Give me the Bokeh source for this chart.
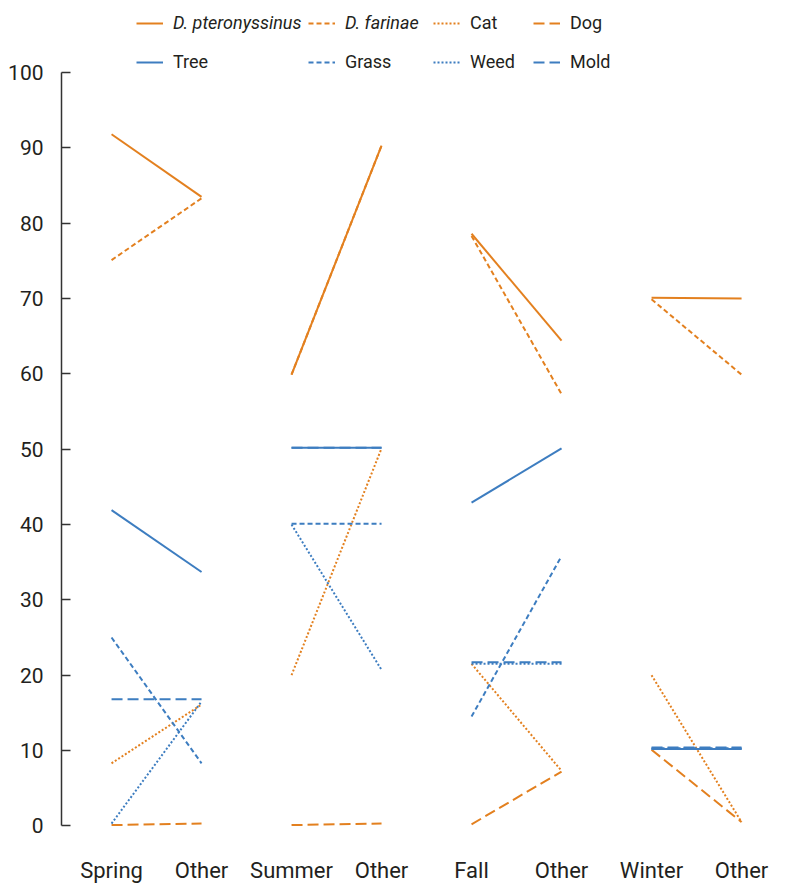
from bokeh.plotting import figure
from bokeh.models import Range1d, FixedTicker, Legend, LegendItem
from bokeh.embed import file_html
from bokeh.resources import INLINE

# ---- data ----
tick_labels = ["Spring", "Other", "Summer", "Other", "Fall", "Other", "Winter", "Other"]

d_pteronyssinus = [91.8, 83.5, 59.9, 90.3, 78.6, 64.4, 70.1, 70.0]
d_farinae       = [75.1, 83.3, 59.9, 90.3, 78.3, 57.3, 69.9, 59.9]
cat             = [8.3, 16.1, 20.0, 50.1, 21.5, 7.3, 20.0, 0.5]
dog             = [0.1, 0.3, 0.1, 0.3, 0.2, 7.2, 10.1, 0.5]
tree            = [41.9, 33.7, 50.2, 50.2, 42.9, 50.1, 10.2, 10.2]
grass           = [25.0, 8.3, 40.1, 40.1, 14.5, 35.8, 10.3, 10.3]
weed            = [0.3, 16.5, 40.0, 20.7, 21.5, 21.5, 10.2, 10.2]
mold            = [16.8, 16.8, 50.2, 50.2, 21.7, 21.7, 10.4, 10.4]

ORANGE = "#E3801F"
BLUE = "#3D7DC0"
TEXT = "#231F20"
FONT = "Roboto"

series = [
    ("D. pteronyssinus", d_pteronyssinus, ORANGE, "solid", True),
    ("D. farinae", d_farinae, ORANGE, "5 3", True),
    ("Cat", cat, ORANGE, "2 2", False),
    ("Dog", dog, ORANGE, "11 5", False),
    ("Tree", tree, BLUE, "solid", False),
    ("Grass", grass, BLUE, "5 3", False),
    ("Weed", weed, BLUE, "2 2", False),
    ("Mold", mold, BLUE, "11 5", False),
]

p = figure(frame_width=720, frame_height=825, output_backend="svg", toolbar_location=None,
           x_range=Range1d(-0.556, 7.444), y_range=Range1d(-1.02, 108.5),
           min_border_left=61, min_border_right=0, min_border_top=8, min_border_bottom=0)
p.outline_line_color = None
p.xgrid.visible = False
p.ygrid.visible = False
p.background_fill_color = "white"
p.border_fill_color = "white"

renderers = []
idx = list(range(len(tick_labels)))
for name, vals, color, dash, italic in series:
    xs = [[idx[i], idx[i + 1]] for i in range(0, len(idx), 2)]
    ys = [[vals[i], vals[i + 1]] for i in range(0, len(vals), 2)]
    r = p.multi_line(xs=xs, ys=ys, line_color=color, line_width=2, line_dash=dash)
    renderers.append((name, r, italic))

# y axis
ya = p.yaxis[0]
ya.ticker = FixedTicker(ticks=list(range(0, 101, 10)))
ya.bounds = (0, 100)
ya.axis_line_color = "#333333"
ya.axis_line_width = 1.5
ya.major_tick_line_color = "#333333"
ya.major_tick_line_width = 1.5
ya.major_tick_in = 9
ya.major_tick_out = 0
ya.minor_tick_line_color = None
ya.major_label_standoff = 18
ya.major_label_text_font = FONT
ya.major_label_text_font_size = "21px"
ya.major_label_text_color = TEXT

# x axis
xa = p.xaxis[0]
xa.ticker = FixedTicker(ticks=idx)
xa.major_label_overrides = {i: lab for i, lab in zip(idx, tick_labels)}
xa.axis_line_color = None
xa.major_tick_line_color = None
xa.minor_tick_line_color = None
xa.major_label_standoff = 18
xa.major_label_text_font = FONT
xa.major_label_text_font_size = "22px"
xa.major_label_text_color = TEXT

# legends: 2 rows x 4 columns
col_x = [75, 247, 372, 472]
row_y = [800, 761]
for k, (name, r, italic) in enumerate(renderers):
    row, col = divmod(k, 4)
    lg = Legend(items=[LegendItem(label=name, renderers=[r])],
                location=(col_x[col], row_y[row]),
                orientation="horizontal",
                glyph_width=27, glyph_height=20, label_height=20,
                label_standoff=10, padding=0, margin=0, spacing=0,
                label_text_font=FONT, label_text_font_size="18px",
                label_text_color=TEXT,
                label_text_font_style="italic" if italic else "normal",
                background_fill_alpha=0, border_line_color=None)
    p.add_layout(lg, "center")

open("out.html", "w").write(file_html(p, INLINE))
